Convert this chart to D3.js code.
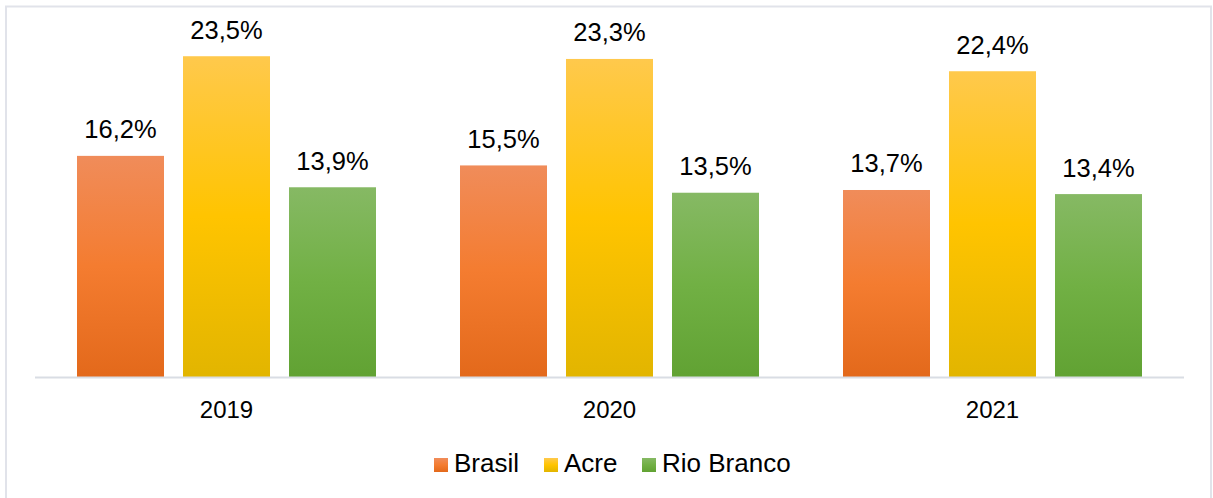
<!DOCTYPE html>
<html>
<head>
<meta charset="utf-8">
<script src="https://cdn.jsdelivr.net/npm/d3@7"></script>
<style>
  html, body { margin: 0; padding: 0; background: #fff; }
  svg { display: block; font-family: "Liberation Sans", Arial, Helvetica, sans-serif; }
</style>
</head>
<body>
<svg id="chart" width="1213" height="498"></svg>
<script>
// Years on the category axis
const years = ["2019", "2020", "2021"];
// Series names
const seriesNames = ["Brasil", "Acre", "Rio Branco"];
// Values (%) per series, one per year
const brasil = [16.2, 15.5, 13.7];
const acre = [23.5, 23.3, 22.4];
const rioBranco = [13.9, 13.5, 13.4];

const seriesValues = [brasil, acre, rioBranco];

// Three-stop vertical gradients (top, middle, bottom) per series
const gradStops = [
  ["#f08c5a", "#f47c30", "#e3691b"],
  ["#ffc94c", "#ffc400", "#e2b500"],
  ["#86b964", "#71b044", "#61a233"]
];

const svg = d3.select("#chart");
const W = 1213, H = 498;

// Outer frame
svg.append("rect")
  .attr("x", 6).attr("y", 6.5)
  .attr("width", 1205).attr("height", 520)
  .attr("fill", "#fff")
  .attr("stroke", "#e1e3ea")
  .attr("stroke-width", 2);

const plotLeft = 35, plotRight = 1184, baseY = 377;

const x0 = d3.scaleBand().domain(years).range([plotLeft, plotRight]).paddingInner(0).paddingOuter(0);
const groupW = 299;
const x1 = d3.scaleBand().domain(seriesNames).range([0, groupW]).paddingInner(19 / 106).paddingOuter(0);
const y = d3.scaleLinear().domain([0, 25]).range([baseY, baseY - 25 * 13.65]);

const defs = svg.append("defs");
gradStops.forEach((stops, i) => {
  const g = defs.append("linearGradient")
    .attr("id", "grad" + i)
    .attr("x1", 0).attr("y1", 0).attr("x2", 0).attr("y2", 1);
  g.append("stop").attr("offset", "0%").attr("stop-color", stops[0]);
  g.append("stop").attr("offset", "50%").attr("stop-color", stops[1]);
  g.append("stop").attr("offset", "100%").attr("stop-color", stops[2]);
});

const fmt = v => d3.format(".1f")(v).replace(".", ",") + "%";

const groups = svg.append("g").selectAll("g")
  .data(years)
  .join("g")
  .attr("transform", d => `translate(${x0(d) + (x0.bandwidth() - groupW) / 2},0)`);

groups.each(function (yr, yi) {
  const g = d3.select(this);
  seriesNames.forEach((s, si) => {
    const v = seriesValues[si][yi];
    g.append("rect")
      .attr("x", x1(s))
      .attr("y", y(v))
      .attr("width", x1.bandwidth())
      .attr("height", baseY - y(v))
      .attr("fill", `url(#grad${si})`);
    g.append("text")
      .attr("x", x1(s) + x1.bandwidth() / 2)
      .attr("y", y(v) - 17.5)
      .attr("text-anchor", "middle")
      .attr("font-size", 25.5)
      .attr("fill", "#000")
      .text(fmt(v));
  });
});

// Category axis line
svg.append("line")
  .attr("x1", plotLeft).attr("x2", plotRight)
  .attr("y1", baseY + 0.5).attr("y2", baseY + 0.5)
  .attr("stroke", "#d9dde4").attr("stroke-width", 2);

// Category labels
const xAxis = d3.axisBottom(x0).tickSize(0).tickPadding(0);
const axisG = svg.append("g").attr("transform", `translate(0,${baseY})`).call(xAxis);
axisG.select(".domain").remove();
axisG.selectAll("text")
  .attr("dy", null)
  .attr("y", 41)
  .attr("font-size", 24)
  .attr("font-family", "Liberation Sans, Arial, sans-serif")
  .attr("fill", "#000");

// Legend
const legendItems = [
  { name: "Brasil", x: 434 },
  { name: "Acre", x: 544 },
  { name: "Rio Branco", x: 642 }
];
const leg = svg.append("g");
legendItems.forEach((it, i) => {
  leg.append("rect")
    .attr("x", it.x).attr("y", 458)
    .attr("width", 14).attr("height", 14)
    .attr("fill", `url(#grad${i})`);
  leg.append("text")
    .attr("x", it.x + 20).attr("y", 472)
    .attr("font-size", 26)
    .attr("fill", "#000")
    .text(it.name);
});
</script>
</body>
</html>
